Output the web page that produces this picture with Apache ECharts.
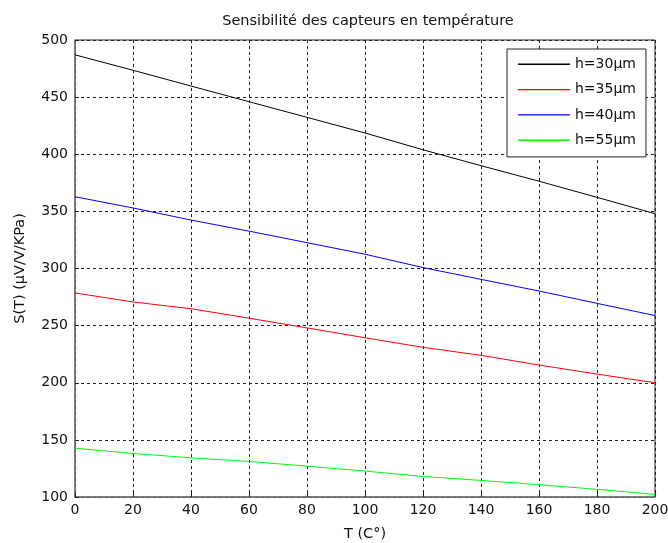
<!DOCTYPE html>
<html>
<head>
<meta charset="utf-8">
<script src="https://cdn.jsdelivr.net/npm/echarts@6/dist/echarts.min.js"></script>
<style>html,body{margin:0;padding:0;background:#fff}#c{width:668px;height:543px}</style>
</head>
<body>
<div id="c"></div>
<script>
const temps = [0, 20, 40, 60, 80, 100, 120, 140, 160, 180, 200];
const h30 = [487, 473.5, 459.7, 446, 432.3, 418.6, 403.9, 390, 376.4, 362.3, 348];
const h35 = [278.6, 270.7, 264.8, 256.5, 248, 239.4, 231, 224, 215.5, 207.6, 200];
const h40 = [362.8, 353, 342.4, 332.7, 322.6, 312.5, 300.8, 290.5, 280.3, 269.5, 258.8];
const h55 = [142.7, 138.1, 134.3, 131.1, 127, 122.7, 118, 114.5, 110.8, 106.7, 102.3];
const seriesNames = ['h=30µm', 'h=35µm', 'h=40µm', 'h=55µm'];
const seriesColors = ['#000000', '#ff0000', '#0000ff', '#00ff00'];
const titleText = 'Sensibilité des capteurs en température';
const xName = 'T (C°)';
const yName = 'S(T) (µV/V/KPa)';

const allData = [h30, h35, h40, h55];
const font = 'DejaVu Sans, sans-serif';
const chart = echarts.init(document.getElementById('c'), null, {renderer: 'canvas'});
const gridLine = {show: true, lineStyle: {color: '#222', type: [3, 3], width: 1}};
chart.setOption({
  animation: false,
  backgroundColor: '#fff',
  title: {text: titleText, left: 363, top: 9, textAlign: 'center',
    textStyle: {fontFamily: font, fontSize: 14.5, fontWeight: 'normal', color: '#111'}},
  grid: {left: 75, right: 13, top: 40, bottom: 46, show: true, borderColor: '#222', borderWidth: 1,
    containLabel: false, outerBoundsMode: 'none'},
  legend: {
    orient: 'vertical', left: 507, top: 49,
    data: seriesNames,
    icon: 'path://M0,0 L52,0 L52,1.4 L0,1.4 Z',
    itemWidth: 52, itemHeight: 16, itemGap: 9.3,
    padding: [7.3, 10, 8.7, 11],
    borderColor: '#222', borderWidth: 1, backgroundColor: '#fff',
    textStyle: {fontFamily: font, fontSize: 14, color: '#111', lineHeight: 16, padding: [0, 0, 0, 0]}
  },
  xAxis: {
    type: 'value', min: 0, max: 200, interval: 20,
    name: xName, nameLocation: 'middle', nameGap: 30,
    nameTextStyle: {fontFamily: font, fontSize: 14.5, color: '#111'},
    axisLine: {show: true, lineStyle: {color: '#777', width: 1.5}},
    axisTick: {show: true, inside: true, length: 4, lineStyle: {color: '#222'}},
    axisLabel: {fontFamily: font, fontSize: 14, color: '#111', margin: 6},
    splitLine: gridLine
  },
  yAxis: {
    type: 'value', min: 100, max: 500, interval: 50,
    name: yName, nameLocation: 'middle', nameGap: 47, nameRotate: 90,
    nameTextStyle: {fontFamily: font, fontSize: 14.5, color: '#111'},
    axisLine: {show: true, lineStyle: {color: '#777', width: 1.5}},
    axisTick: {show: true, inside: true, length: 4, lineStyle: {color: '#222'}},
    axisLabel: {fontFamily: font, fontSize: 14, color: '#111', margin: 7},
    splitLine: gridLine
  },
  series: allData.map((d, i) => ({
    name: seriesNames[i], type: 'line', showSymbol: false, symbol: 'none',
    data: temps.map((t, j) => [t, d[j]]),
    lineStyle: {color: seriesColors[i], width: 1},
    itemStyle: {color: seriesColors[i]}
  }))
});
</script>
</body>
</html>
